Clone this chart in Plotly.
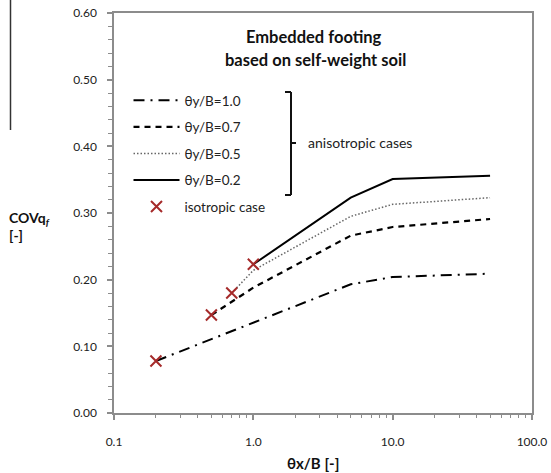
import plotly.graph_objects as go

# ---- data ----
x_10 = [0.2, 0.5, 1.0, 5.0, 10.0, 50.0]
y_10 = [0.078, 0.111, 0.135, 0.193, 0.204, 0.209]

x_07 = [0.5, 1.0, 5.0, 10.0, 50.0]
y_07 = [0.147, 0.188, 0.266, 0.279, 0.291]

x_05 = [0.7, 1.0, 5.0, 10.0, 50.0]
y_05 = [0.180, 0.214, 0.295, 0.313, 0.323]

x_02 = [1.0, 5.0, 10.0, 50.0]
y_02 = [0.223, 0.323, 0.351, 0.356]

x_iso = [0.2, 0.5, 0.7, 1.0]
y_iso = [0.078, 0.147, 0.180, 0.223]

names = ["θy/B=1.0", "θy/B=0.7", "θy/B=0.5", "θy/B=0.2", "isotropic case"]
x_ticks = [0.1, 1, 10, 100]
x_ticklabels = ["0.1", "1.0", "10.0", "100.0"]
x_minor = [0.2, 0.3, 0.4, 0.5, 0.6, 0.7, 0.8, 0.9, 2, 3, 4, 5, 6, 7, 8, 9,
           20, 30, 40, 50, 60, 70, 80, 90]

FONT = "Lato"
AX = "#8c8c8c"

fig = go.Figure()
fig.add_trace(go.Scatter(x=x_10, y=y_10, mode="lines", name=names[0], legendgroup="a",
                         line=dict(color="black", width=2, dash="11px,6px,2px,6px")))
fig.add_trace(go.Scatter(x=x_07, y=y_07, mode="lines", name=names[1], legendgroup="b",
                         line=dict(color="black", width=2.2, dash="6px,5px")))
fig.add_trace(go.Scatter(x=x_05, y=y_05, mode="lines", name=names[2], legendgroup="c",
                         line=dict(color="#666666", width=1.5, dash="1.5px,2px")))
fig.add_trace(go.Scatter(x=x_02, y=y_02, mode="lines", name=names[3], legendgroup="d",
                         line=dict(color="black", width=2)))
fig.add_trace(go.Scatter(x=x_iso, y=y_iso, mode="markers", name=names[4], legendgroup="e",
                         marker=dict(symbol="x-thin", size=11, color="#a52a2a",
                                     line=dict(color="#a52a2a", width=2))))

def px(xp):
    return (xp - 114) / 418
def py(yp):
    return (413 - yp) / 400

fig.update_layout(
    width=551, height=473,
    margin=dict(l=114, r=19, t=13, b=60, autoexpand=False),
    paper_bgcolor="white", plot_bgcolor="white",
    font=dict(family=FONT, size=12, color="#222"),
    showlegend=True,
    legend=dict(x=px(128.5), xanchor="left", y=py(85), yanchor="top",
                bgcolor="rgba(0,0,0,0)", font=dict(size=13.5, color="#222"),
                traceorder="grouped", tracegroupgap=6, itemwidth=46),
)
fig.update_xaxes(type="log", range=[-1, 2], tickvals=x_ticks, ticktext=x_ticklabels,
                 automargin=False,
                 showline=True, linecolor=AX, linewidth=1.5, mirror=True,
                 ticks="outside", ticklen=5, tickcolor=AX, tickwidth=1.5,
                 showgrid=False, zeroline=False, ticklabelstandoff=12,
                 minor=dict(tickvals=x_minor, ticks="outside", ticklen=3,
                            tickcolor=AX, tickwidth=1.2, showgrid=False),
                 tickfont=dict(size=12, color="#222"))
fig.update_yaxes(range=[0, 0.6], dtick=0.1, tick0=0, tickformat=".2f",
                 automargin=False,
                 showline=True, linecolor=AX, linewidth=1.5, mirror=True,
                 ticks="outside", ticklen=5, tickcolor=AX, tickwidth=1.5,
                 showgrid=False, zeroline=False, ticklabelstandoff=8,
                 minor=dict(dtick=0.02, ticks="outside", ticklen=4,
                            tickcolor=AX, tickwidth=1.2, showgrid=False),
                 tickfont=dict(size=12, color="#222"))

# titles
fig.add_annotation(text="<b>Embedded footing</b>", xref="paper", yref="paper",
                   x=px(314), y=py(37), xanchor="center", yanchor="middle",
                   showarrow=False, font=dict(size=16.5, color="#111"))
fig.add_annotation(text="<b>based on self-weight soil</b>", xref="paper", yref="paper",
                   x=px(315), y=py(60), xanchor="center", yanchor="middle",
                   showarrow=False, font=dict(size=16.5, color="#111"))
fig.add_annotation(text="<b>θx/B [-]</b>", xref="paper", yref="paper",
                   x=px(312.5), y=py(463), xanchor="center", yanchor="middle",
                   showarrow=False, font=dict(size=15, color="#111"))
fig.add_annotation(text="<b>COVq<sub><i>f</i></sub></b><br><b>[-]</b>", xref="paper", yref="paper",
                   x=px(7), y=py(226), xanchor="left", yanchor="middle",
                   align="left", showarrow=False, font=dict(size=14, color="#111"))

# bracket + label
br = dict(color="#111", width=2)
fig.add_shape(type="line", xref="paper", yref="paper", x0=px(291), x1=px(291), y0=py(92), y1=py(195), line=br)
fig.add_shape(type="line", xref="paper", yref="paper", x0=px(285), x1=px(291), y0=py(92), y1=py(92), line=br)
fig.add_shape(type="line", xref="paper", yref="paper", x0=px(285), x1=px(291), y0=py(195), y1=py(195), line=br)
fig.add_shape(type="line", xref="paper", yref="paper", x0=px(291), x1=px(296), y0=py(143), y1=py(143), line=br)
fig.add_annotation(text="anisotropic cases", xref="paper", yref="paper",
                   x=px(306), y=py(143), xanchor="left", yanchor="middle",
                   showarrow=False, font=dict(size=14, color="#222"))
# stray border line at the left edge of the reference image
fig.add_shape(type="line", xref="paper", yref="paper", x0=px(10.5), x1=px(10.5), y0=py(0), y1=py(130),
              line=dict(color="#333", width=1.5))

fig.write_html("out.html")
